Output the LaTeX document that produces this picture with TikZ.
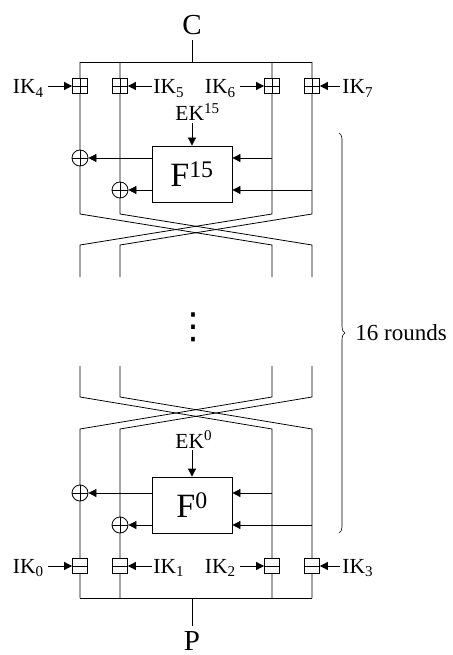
\documentclass[tikz,border=0pt]{standalone}
\usepackage{fontspec}
\setmainfont{Liberation Serif}
\newfontfamily\symfont{DejaVu Sans}
\usetikzlibrary{arrows.meta,decorations.pathreplacing}
\begin{document}
\begin{tikzpicture}[x=1pt,y=-1pt, line width=0.8pt,
  arr/.style={-{Triangle[length=8pt,width=8pt]}},
  keybox/.style={draw, fill=white, minimum size=15pt, inner sep=0pt},
  keyplus/.style={keybox, path picture={\draw (path picture bounding box.north) -- (path picture bounding box.south) (path picture bounding box.west) -- (path picture bounding box.east);}},
  keyminus/.style={keybox, path picture={\draw (path picture bounding box.west) -- (path picture bounding box.east);}},
  xor/.style={draw, fill=white, circle, minimum size=16pt, inner sep=0pt, path picture={\draw (path picture bounding box.north) -- (path picture bounding box.south) (path picture bounding box.west) -- (path picture bounding box.east);}},
  fblock/.style={draw, fill=white, minimum width=80pt, minimum height=56pt, inner sep=0pt, font=\fontsize{34}{40}\selectfont},
  lbl/.style={inner sep=0pt, font=\fontsize{21.5}{25}\selectfont},
  big/.style={inner sep=0pt, outer sep=5pt, font=\fontsize{29}{32}\selectfont},
]
\useasboundingbox (0,0) rectangle (452,655);

% ---- C and top bus
\node[big, anchor=base] (C) at (192,35) {C};
\coordinate (ct) at (192,62);
\draw (C.south) -- (ct);
\coordinate (t1) at (80,62);
\coordinate (t2) at (120,62);
\coordinate (t3) at (272,62);
\coordinate (t4) at (312,62);
\draw (t1) -- (t4);

% ---- upper round wires
\draw (t1) -- (80,214) -- (272,245) -- (272,277);
\draw (t2) -- (120,214) -- (312,245) -- (312,277);
\draw (t3) -- (272,214) -- (80,245) -- (80,277);
\draw (t4) -- (312,214) -- (120,245) -- (120,277);

% ---- lower round wires
\coordinate (b1) at (80,598);
\coordinate (b2) at (120,598);
\coordinate (b3) at (272,598);
\coordinate (b4) at (312,598);
\draw (80,366) -- (80,397) -- (272,429) -- (b3);
\draw (120,366) -- (120,397) -- (312,429) -- (b4);
\draw (272,366) -- (272,397) -- (80,429) -- (b1);
\draw (312,366) -- (312,397) -- (120,429) -- (b2);
\draw (b1) -- (b4);
\coordinate (pb) at (192,598);
\node[big, anchor=base] (P) at (192,650) {P};
\draw (pb) -- (P.north);

% ---- output whitening keys
\node[keyplus] (k4) at (80,86) {};
\node[keyplus] (k5) at (120,86) {};
\node[keyplus] (k6) at (272,86) {};
\node[keyplus] (k7) at (312,86) {};
\node[lbl, anchor=base east] (ik4) at (44,94) {IK\textsubscript{4}};
\node[lbl, anchor=base west] (ik5) at (153,94) {IK\textsubscript{5}};
\node[lbl, anchor=base east] (ik6) at (236,94) {IK\textsubscript{6}};
\node[lbl, anchor=base west] (ik7) at (342,94) {IK\textsubscript{7}};
\draw[arr] ([xshift=4pt]ik4.east |- k4) -- (k4.west);
\draw[arr] ([xshift=-1pt]ik5.west |- k5) -- (k5.east);
\draw[arr] ([xshift=4pt]ik6.east |- k6) -- (k6.west);
\draw[arr] ([xshift=-2pt]ik7.west |- k7) -- (k7.east);

% ---- round 15
\node[lbl, anchor=base west] (ek15) at (175,121) {EK\textsuperscript{15}};
\node[fblock] (f15) at (192,174) {F\textsuperscript{15}};
\draw[arr] (ek15.south -| f15.north) ++(0,2) -- (f15.north);
\node[xor] (x15a) at (80,158) {};
\node[xor] (x15b) at (120,190) {};
\draw[arr] (f15.west |- x15a) -- (x15a);
\draw[arr] (f15.west |- x15b) -- (x15b);
\coordinate (r15a) at (272,158);
\coordinate (r15b) at (312,190);
\draw[arr] (r15a) -- (r15a -| f15.east);
\draw[arr] (r15b) -- (r15b -| f15.east);

% ---- vertical dots (one glyph)
\node[inner sep=0pt, font=\symfont\fontsize{36}{38}\selectfont] (dots) at (193,327) {⋮};

% ---- round 0
\node[lbl, anchor=base west] (ek0) at (175,448) {EK\textsuperscript{0}};
\node[fblock] (f0) at (192,505) {F\textsuperscript{0}};
\draw[arr] (ek0.south -| f0.north) ++(0,2) -- (f0.north);
\node[xor] (x0a) at (80,493) {};
\node[xor] (x0b) at (120,525) {};
\draw[arr] (f0.west |- x0a) -- (x0a);
\draw[arr] (f0.west |- x0b) -- (x0b);
\coordinate (r0a) at (272,493);
\coordinate (r0b) at (312,525);
\draw[arr] (r0a) -- (r0a -| f0.east);
\draw[arr] (r0b) -- (r0b -| f0.east);

% ---- input whitening keys
\node[keyminus] (k0) at (80,566) {};
\node[keyminus] (k1) at (120,566) {};
\node[keyminus] (k2) at (272,566) {};
\node[keyminus] (k3) at (312,566) {};
\node[lbl, anchor=base east] (ik0) at (44,573) {IK\textsubscript{0}};
\node[lbl, anchor=base west] (ik1) at (153,573) {IK\textsubscript{1}};
\node[lbl, anchor=base east] (ik2) at (236,573) {IK\textsubscript{2}};
\node[lbl, anchor=base west] (ik3) at (342,573) {IK\textsubscript{3}};
\draw[arr] ([xshift=4pt]ik0.east |- k0) -- (k0.west);
\draw[arr] ([xshift=-1pt]ik1.west |- k1) -- (k1.east);
\draw[arr] ([xshift=4pt]ik2.east |- k2) -- (k2.west);
\draw[arr] ([xshift=-2pt]ik3.west |- k3) -- (k3.east);

% ---- brace
\coordinate (brt) at (339,133);
\coordinate (brb) at (339,533);
\draw[line width=0.6pt, decorate, decoration={brace, amplitude=6pt}] (brt) -- (brb);
\node[inner sep=0pt, anchor=west, font=\fontsize{23}{26}\selectfont] (rounds) at (355,333) {16 rounds};
\end{tikzpicture}
\end{document}
